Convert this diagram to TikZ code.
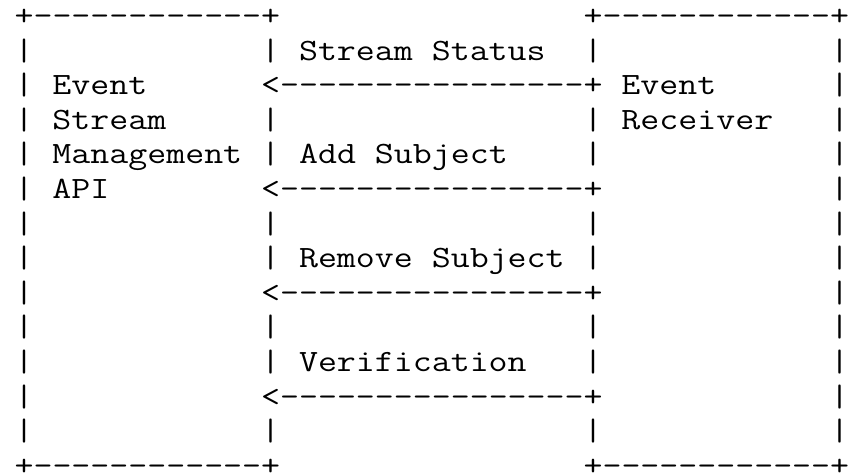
\documentclass[tikz,border=0pt]{standalone}
\usepackage{fontspec}
\newcommand\spTwelve{~~~~~~~~~~~~}
\newcommand\spSixteen{~~~~~~~~~~~~~~~~}
\newcommand\dashSixteen{----------------}
\newcommand\boxTop{+------------+}
\tikzset{
  asciiline/.style={anchor=base west, inner sep=0pt, outer sep=0pt,
    font=\ttfamily\fontsize{31}{34.6}\selectfont, text=black,
    xscale=1.188, transform shape}
}
\begin{document}
\begin{tikzpicture}[x=1pt,y=1pt]
\useasboundingbox (0,0) rectangle (848,-472);
\def\colx{14.6}
\node[asciiline] (r0)  at (\colx,-25.5)  {\boxTop\spSixteen\boxTop};
\node[asciiline] (r1)  at (\colx,-60.1)  {|\spTwelve|~Stream~Status~~|\spTwelve|};
\node[asciiline] (r2)  at (\colx,-94.7)  {|~Event~~~~~~<\dashSixteen+~Event~~~~~~|};
\node[asciiline] (r3)  at (\colx,-129.3) {|~Stream~~~~~|\spSixteen|~Receiver~~~|};
\node[asciiline] (r4)  at (\colx,-163.9) {|~Management~|~Add~Subject~~~~|\spTwelve|};
\node[asciiline] (r5)  at (\colx,-198.5) {|~API~~~~~~~~<\dashSixteen+\spTwelve|};
\node[asciiline] (r6)  at (\colx,-233.1) {|\spTwelve|\spSixteen|\spTwelve|};
\node[asciiline] (r7)  at (\colx,-267.7) {|\spTwelve|~Remove~Subject~|\spTwelve|};
\node[asciiline] (r8)  at (\colx,-302.3) {|\spTwelve<\dashSixteen+\spTwelve|};
\node[asciiline] (r9)  at (\colx,-336.9) {|\spTwelve|\spSixteen|\spTwelve|};
\node[asciiline] (r10) at (\colx,-371.5) {|\spTwelve|~Verification~~~|\spTwelve|};
\node[asciiline] (r11) at (\colx,-406.1) {|\spTwelve<\dashSixteen+\spTwelve|};
\node[asciiline] (r12) at (\colx,-440.7) {|\spTwelve|\spSixteen|\spTwelve|};
\node[asciiline] (r13) at (\colx,-475.3) {\boxTop\spSixteen\boxTop};
\end{tikzpicture}
\end{document}
